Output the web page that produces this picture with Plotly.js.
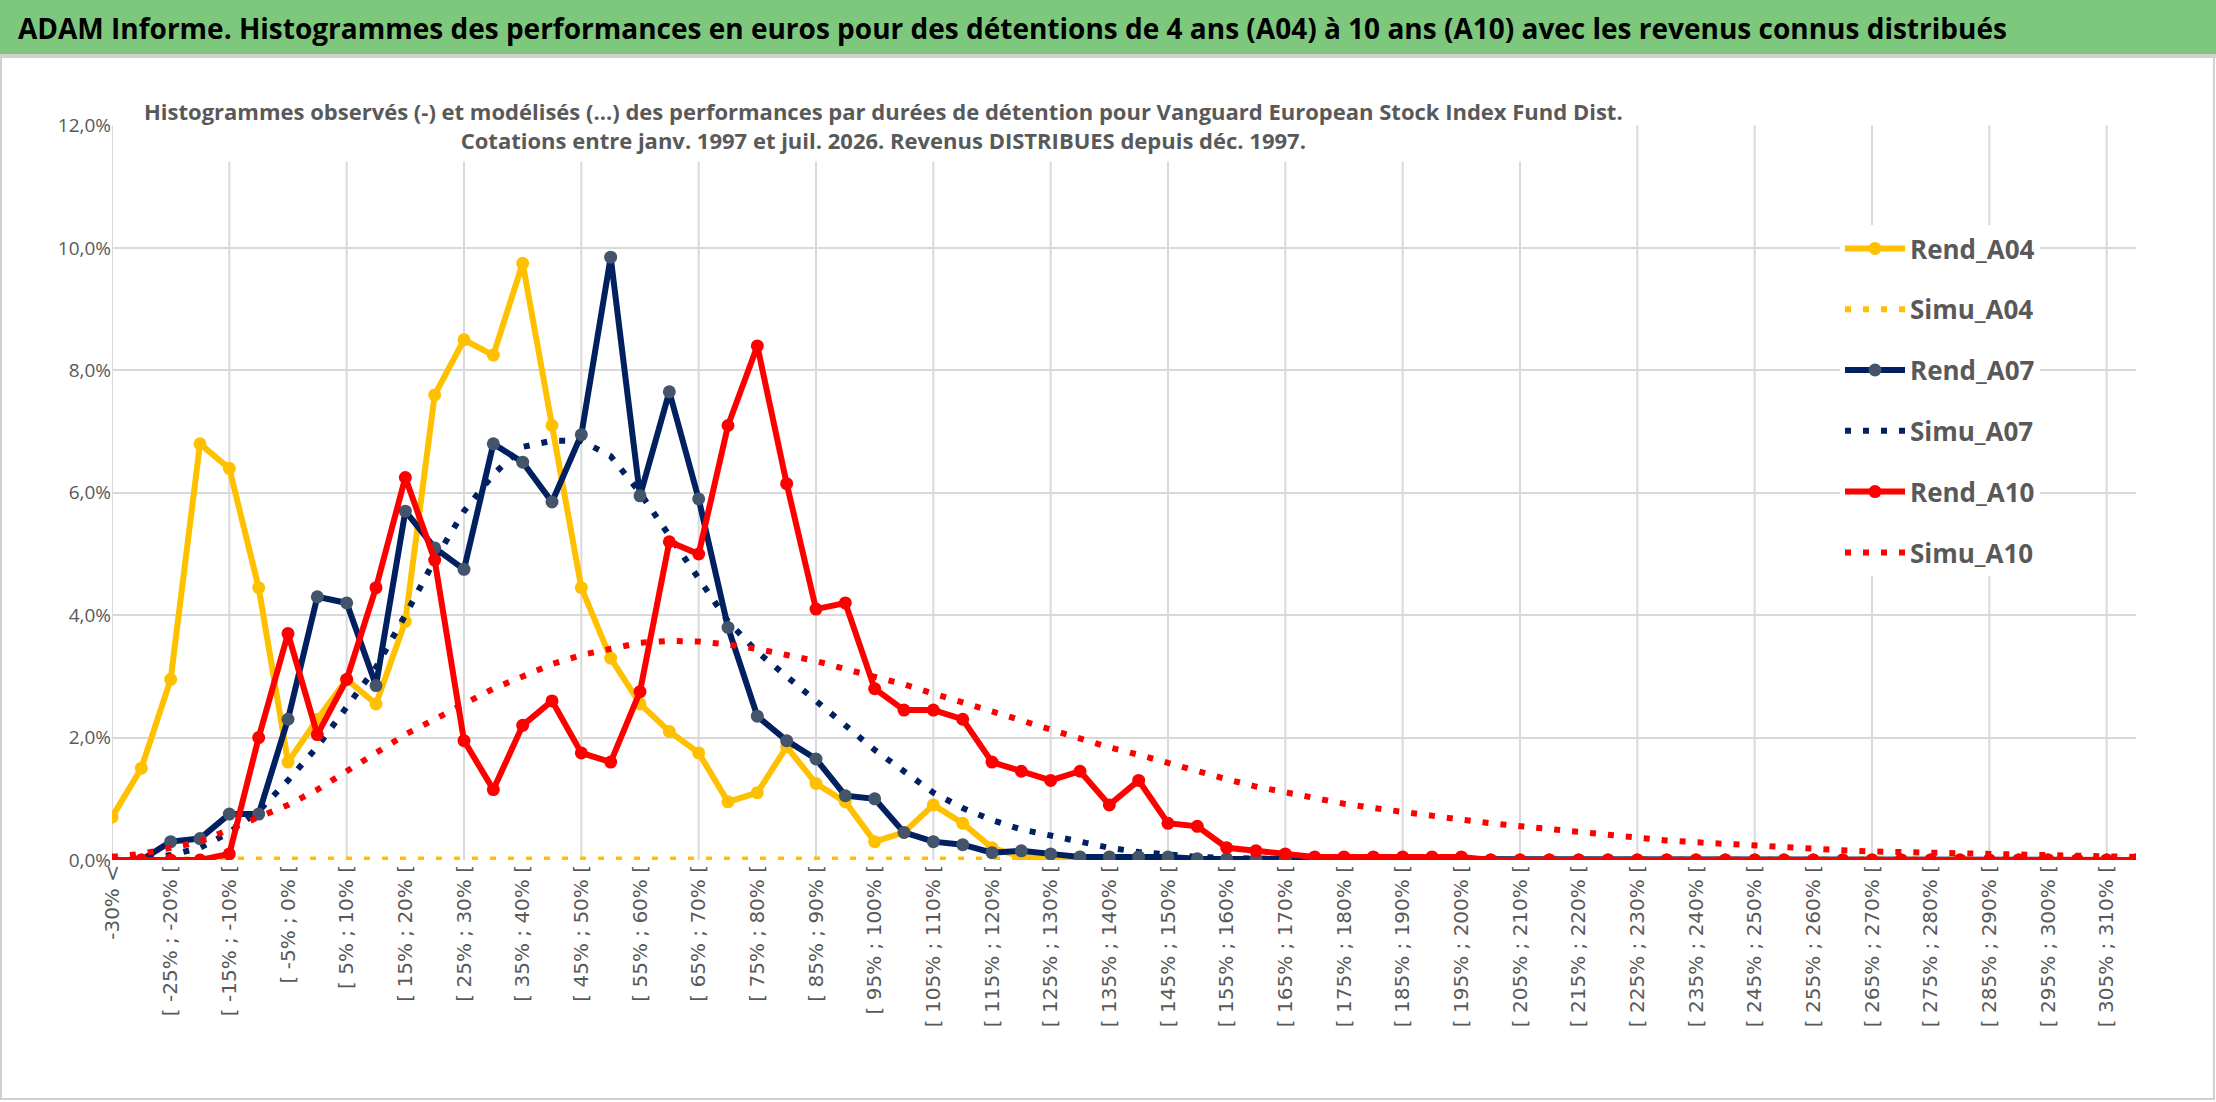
<!DOCTYPE html>
<html>
<head>
<meta charset="utf-8">
<script src="https://cdn.plot.ly/plotly-3.0.1.min.js"></script>
<style>body{margin:0;background:#fff}</style>
</head>
<body>
<div id="chart" style="width:2216px;height:1102px"></div>
<script>
    // categories: "-30% <" then 5% buckets up to [310% ; 315%[
    var categories = ['-30% &lt;'];
    for (var k = -30; k < 315; k += 5) {
        categories.push('[ ' + k + '% ; ' + (k + 5) + '% [');
    }

    var rendA04 = [0.7,1.5,2.95,6.8,6.4,4.45,1.6,2.3,2.95,2.55,3.9,7.6,8.5,8.25,9.75,7.1,4.45,3.3,2.55,2.1,1.75,0.95,1.1,1.85,1.25,0.95,0.3,0.45,0.9,0.6,0.2,0.05,0.05,0.05,0.05,0.05,0,0,0,0,0,0,0,0,0,0,0,0,0,0,0,0,0,0,0,0,0,0,0,0,0,0,0,0,0,0,0,0,0,0];
    var simuA04 = [0.01,0.01,0.01,0.01,0.01,0.01,0.01,0.01,0.01,0.01,0.01,0.01,0.01,0.01,0.01,0.01,0.01,0.01,0.01,0.01,0.01,0.01,0.01,0.01,0.01,0.01,0.01,0.01,0.01,0.01,0.01,0.01,0.01,0.01,0.01,0.01,0.01,0.01,0.01,0.01,0.01,0.01,0.01,0.01,0.01,0.01,0.01,0.01,0.01,0.01,0.01,0.01,0.01,0.01,0.01,0.01,0.01,0.01,0.01,0.01,0.01,0.01,0.01,0.01,0.01,0.01,0.01,0.01,0.01,0.01];
    var rendA07 = [0,0,0.3,0.35,0.75,0.75,2.3,4.3,4.2,2.85,5.7,5.1,4.75,6.8,6.5,5.85,6.95,9.85,5.95,7.65,5.9,3.8,2.35,1.95,1.65,1.05,1.0,0.45,0.3,0.25,0.12,0.15,0.1,0.05,0.05,0.05,0.05,0.02,0.02,0.02,0,0,0,0,0,0,0,0,0,0,0,0,0,0,0,0,0,0,0,0,0,0,0,0,0,0,0,0,0,0];
    var simuA07 = [0,0.02,0.08,0.2,0.45,0.8,1.3,1.85,2.5,3.15,4.0,4.9,5.7,6.3,6.75,6.85,6.85,6.6,6.0,5.3,4.6,3.9,3.4,3.0,2.6,2.2,1.8,1.45,1.1,0.85,0.65,0.5,0.4,0.3,0.2,0.13,0.08,0.05,0.03,0.02,0.01,0,0,0,0,0,0,0,0,0,0,0,0,0,0,0,0,0,0,0,0,0,0,0,0,0,0,0,0,0];
    var rendA10 = [0,0,0,0,0.1,2.0,3.7,2.05,2.95,4.45,6.25,4.9,1.95,1.15,2.2,2.6,1.75,1.6,2.75,5.2,5.0,7.1,8.4,6.15,4.1,4.2,2.8,2.45,2.45,2.3,1.6,1.45,1.3,1.45,0.9,1.3,0.6,0.55,0.2,0.15,0.1,0.05,0.05,0.05,0.05,0.05,0.05,0,0,0,0,0,0,0,0,0,0,0,0,0,0,0,0,0,0,0,0,0,0,0];
    var simuA10 = [0.05,0.1,0.2,0.3,0.5,0.7,0.9,1.15,1.45,1.75,2.05,2.3,2.55,2.8,3.0,3.2,3.35,3.45,3.55,3.58,3.57,3.52,3.45,3.35,3.25,3.12,3.0,2.87,2.72,2.57,2.42,2.27,2.12,1.98,1.84,1.72,1.58,1.44,1.32,1.2,1.1,1.0,0.92,0.85,0.78,0.72,0.66,0.6,0.55,0.5,0.45,0.4,0.36,0.32,0.29,0.26,0.23,0.2,0.18,0.16,0.14,0.13,0.12,0.1,0.09,0.08,0.07,0.06,0.05,0.05];

    var pct = function (a) { return a.map(function (v) { return v / 100; }); };

    function rend(name, y, color, markerColor) {
        return {x: categories, y: pct(y), name: name, legendgroup: name, type: 'scatter', mode: 'lines+markers',
            line: {color: color, width: 6}, marker: {color: markerColor, size: 13}};
    }
    function simu(name, y, color) {
        return {x: categories, y: pct(y), name: name, legendgroup: name, type: 'scatter', mode: 'lines',
            line: {color: color, width: 6, dash: '6px,12px'}};
    }

    var data = [
        simu('Simu_A04', simuA04, '#FFC000'),
        rend('Rend_A04', rendA04, '#FFC000', '#FFC000'),
        simu('Simu_A07', simuA07, '#002060'),
        rend('Rend_A07', rendA07, '#002060', '#44546A'),
        simu('Simu_A10', simuA10, '#FF0000'),
        rend('Rend_A10', rendA10, '#FF0000', '#FF0000')
    ];
    // legend order as in the reference
    var order = ['Rend_A04','Simu_A04','Rend_A07','Simu_A07','Rend_A10','Simu_A10'];
    data.forEach(function (t) { t.legendrank = order.indexOf(t.name) + 1; });

    var H = 1102, T = 125, B = 242, L = 112, R = 80;
    var ph = H - T - B, pw = 2216 - L - R;
    var py = function (px) { return (H - B - px) / ph; };
    var pxX = function (px) { return (px - L) / pw; };

    var tickvals = categories.filter(function (c, i) { return i % 2 === 0; });
    var grid = categories.filter(function (c, i) { return i % 4 === 0; });
    var shapes = grid.map(function (c) {
        return {type: 'line', xref: 'x', yref: 'y', x0: c, x1: c, y0: 0, y1: 0.12, layer: 'below',
            line: {color: '#d9d9d9', width: 2}};
    });
    shapes.push({type: 'rect', xref: 'paper', yref: 'paper', x0: pxX(0), x1: pxX(2216), y0: py(54), y1: py(0),
        fillcolor: '#7DC87D', line: {width: 0}, layer: 'above'});
    shapes.push({type: 'line', xref: 'paper', yref: 'paper', x0: pxX(0), x1: pxX(2216), y0: py(56), y1: py(56),
        line: {color: '#d0d0d0', width: 4}});
    shapes.push({type: 'rect', xref: 'paper', yref: 'paper', x0: pxX(1), x1: pxX(2214), y0: py(1099), y1: py(56),
        line: {color: '#d0d0d0', width: 2}});

    var font = "'Liberation Sans Narrow', 'Open Sans', sans-serif";

    var layout = {
        width: 2216, height: 1102,
        margin: {l: L, r: R, t: T, b: B},
        paper_bgcolor: '#fff', plot_bgcolor: '#fff',
        separators: ', ',
        font: {family: font, color: '#595959', size: 18},
        showlegend: true,
        legend: {x: pxX(1840), y: py(225), xanchor: 'left', yanchor: 'top', bgcolor: '#fff',
            font: {size: 26, color: '#595959', family: font, weight: 'bold'}, tracegroupgap: 24,
            itemwidth: 60},
        xaxis: {type: 'category', categoryorder: 'array', categoryarray: categories,
            range: [0, categories.length - 1], tickmode: 'array', tickvals: tickvals, ticktext: tickvals,
            tickangle: -90, showgrid: false, zeroline: false, ticks: '', showline: false,
            tickfont: {family: 'DejaVu Sans', size: 20, color: '#595959'}},
        yaxis: {range: [0, 0.1201], dtick: 0.02, tickformat: '.1%', showgrid: true, gridcolor: '#d9d9d9',
            gridwidth: 2, zeroline: false, ticks: '', tickfont: {size: 19, color: '#595959'}},
        shapes: shapes,
        annotations: [
            {xref: 'paper', yref: 'paper', x: pxX(16), y: py(28), xanchor: 'left', yanchor: 'middle', showarrow: false,
                text: 'ADAM Informe. Histogrammes des performances en euros pour des détentions de 4 ans (A04) à 10 ans (A10) avec les revenus connus distribués',
                font: {size: 28, color: '#000', family: font, weight: 'bold'}},
            {xref: 'paper', yref: 'paper', x: pxX(883), y: py(126), xanchor: 'center', yanchor: 'middle', showarrow: false,
                bgcolor: '#fff', borderpad: 6,
                text: 'Histogrammes observés (-) et modélisés (...) des performances par durées de détention pour Vanguard European Stock Index Fund Dist.<br>Cotations entre janv. 1997 et juil. 2026. Revenus DISTRIBUES depuis déc. 1997.',
                font: {size: 22, color: '#595959', family: font, weight: 'bold'}}
        ]
    };
    Plotly.newPlot('chart', data, layout, {displayModeBar: false});
</script>
</body>
</html>
